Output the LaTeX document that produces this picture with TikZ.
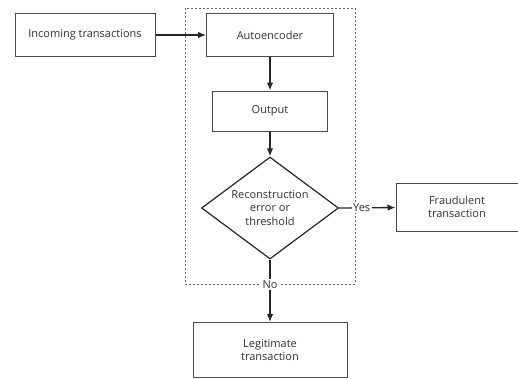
\documentclass[tikz,border=0pt]{standalone}
\usepackage{fontspec}
\setmainfont{Open Sans}
\usetikzlibrary{shapes.geometric, arrows.meta}
\tikzset{>={Latex[length=8pt, width=6.5pt]}}
\tikzset{
    stage/.style={draw=black!70, line width=1pt, fill=white, inner sep=0pt, align=center, text=black!80, font=\fontsize{11}{13.5}\selectfont},
    flow/.style={->, line width=1.3pt, black!85},
    tag/.style={fill=white, inner sep=1.5pt, text=black!80, font=\fontsize{11}{13}\selectfont}
}

\begin{document}
\begin{tikzpicture}[x=1pt, y=-1pt]
    \useasboundingbox (0, 0) rectangle (518, 378);
    % the autoencoder part sits inside the dotted frame
    \draw[black!60, line width=.8pt, dash pattern=on 2pt off 2pt](185, 8) rectangle (355, 284);
    \node[stage, minimum width=140pt, minimum height=43pt](inc) at (85, 35) {Incoming transactions};
    \node[stage, minimum width=127pt, minimum height=43pt](auto) at (270, 35) {Autoencoder};
    \node[stage, minimum width=115pt, minimum height=40pt](out) at (270, 111) {Output};
    \node[diamond, draw=black!85, line width=1.2pt, fill=white, minimum width=137pt, minimum height=102pt, inner sep=0pt](dec) at (270, 208) {};
    \node[align=center, text=black!80, font=\fontsize{11}{13.5}\selectfont](dectext) at (dec.center) {Reconstruction\\error or\\threshold};
    \node[stage, minimum width=122pt, minimum height=48pt](fraud) at (457, 207) {Fraudulent\\transaction};
    \node[stage, minimum width=154pt, minimum height=55pt](legit) at (270, 350) {Legitimate\\transaction};
    \draw[flow](inc) -- (auto);
    \draw[flow](auto) -- (out);
    \draw[flow](out) -- (dec);
    \draw[flow](dec.east) -- node[tag, pos=.4]{Yes} (fraud);
    \draw[flow](dec.south) -- node[tag, pos=.4]{No} (legit);
\end{tikzpicture}
\end{document}
